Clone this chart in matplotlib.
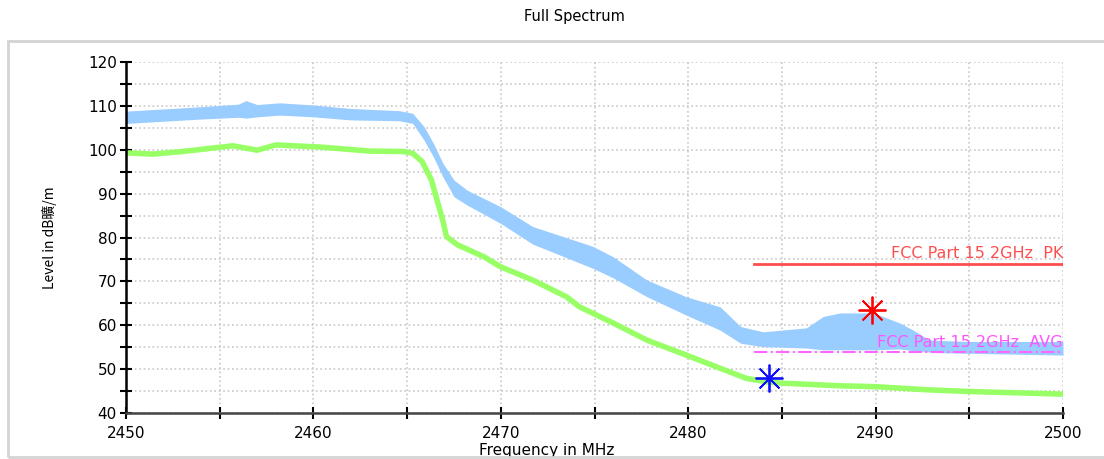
import matplotlib
matplotlib.use("Agg")
import matplotlib.pyplot as plt
from matplotlib.patches import Rectangle
from matplotlib.ticker import MultipleLocator

# peak trace (light blue), read as a band: upper / lower envelope
pk_freq = [2450, 2452, 2454, 2456, 2456.4, 2457, 2458.2, 2460, 2462, 2464.6, 2465.3,
           2465.9, 2466.4, 2466.9, 2467.5, 2468.2, 2470, 2471.7, 2474.9, 2476, 2477.8,
           2479.9, 2481.7, 2482.8, 2484, 2485, 2486.3, 2487.2, 2488.1, 2489.9, 2491.3,
           2492, 2492.7, 2493, 2495, 2500]
pk_hi = [108.8, 109.3, 109.8, 110.4, 111.2, 110.3, 110.7, 110.2, 109.4, 108.9, 108.3,
         105.3, 101.5, 97.0, 93.1, 90.8, 87.0, 82.5, 78.0, 75.6, 70.3,
         66.5, 64.2, 59.7, 58.5, 58.9, 59.4, 62.0, 62.8, 62.8, 60.5,
         58.9, 57.1, 56.6, 56.3, 56.3]
pk_lo = [106.0, 106.5, 107.0, 107.4, 107.2, 107.5, 107.9, 107.5, 106.8, 106.6, 106.0,
         102.2, 98.4, 93.9, 89.3, 87.4, 83.2, 78.5, 73.0, 70.8, 66.5,
         62.3, 58.9, 55.9, 55.1, 55.0, 54.8, 54.4, 54.4, 54.4, 54.6,
         54.2, 54.0, 53.8, 53.6, 53.2]

# average trace (green)
av_freq = [2450, 2451.4, 2453, 2455.7, 2457, 2458, 2460.4, 2463, 2464.8, 2465.3, 2465.8,
           2466.3, 2466.6, 2466.9, 2467.1, 2467.7, 2469.1, 2470, 2471.7, 2473.5, 2474.2,
           2476, 2477.8, 2479.9, 2481.7, 2483.1, 2484.2, 2485, 2488.1, 2490, 2492.7,
           2495, 2500]
av_lvl = [99.3, 99.0, 99.6, 100.9, 99.9, 101.1, 100.6, 99.7, 99.6, 99.2, 97.3,
          93.1, 88.5, 84.0, 80.2, 78.3, 75.6, 73.3, 70.3, 66.5, 64.2,
          60.5, 56.6, 53.2, 50.2, 47.9, 47.1, 46.8, 46.2, 46.0, 45.3,
          44.9, 44.3]

# limit lines
lim_freq = [2483.5, 2500]
lim_pk = [74, 74]
lim_avg = [54, 54]

# markers
mk_pk = (2489.8, 63.5)
mk_av = (2484.3, 47.9)

fig = plt.figure(figsize=(11.04, 4.59), dpi=100)
fig.patches.append(Rectangle((8 / 1104, 1 - 457 / 459), 1.0, (457 - 41) / 459,
                             transform=fig.transFigure, fill=False,
                             edgecolor="#d4d4d4", lw=2))
ax = fig.add_axes([126 / 1104, 1 - 413 / 459, 937 / 1104, 351 / 459])

ax.fill_between(pk_freq, pk_lo, pk_hi, color="#99ccff", lw=0, zorder=2)
ax.plot(av_freq, av_lvl, color="#99ff66", lw=4, zorder=2)

ax.plot(lim_freq, lim_pk, color="#ff4d4d", lw=2, zorder=3)
ax.plot(lim_freq, lim_avg, color="#ff66ff", lw=1.5, ls="-.", zorder=3)
ax.text(2500, 74.6, "FCC Part 15 2GHz  PK", color="#ff4d4d", ha="right",
        va="bottom", fontsize=11.5, zorder=4)
ax.text(2500, 54.4, "FCC Part 15 2GHz  AVG", color="#ff55ff", ha="right",
        va="bottom", fontsize=11.5, zorder=4)

ax.plot(*mk_pk, marker=(8, 2, 0), ms=20, mew=1.3, color="red", zorder=5)
ax.plot(*mk_av, marker=(8, 2, 0), ms=20, mew=1.3, color="#1010ff", zorder=5)

ax.set_xlim(2450, 2500)
ax.set_ylim(40, 120)
ax.xaxis.set_major_locator(MultipleLocator(10))
ax.xaxis.set_minor_locator(MultipleLocator(5))
ax.yaxis.set_major_locator(MultipleLocator(10))
ax.yaxis.set_minor_locator(MultipleLocator(5))
ax.grid(True, which="both", color="#c8c8c8", ls=":", lw=1.2, zorder=0)
ax.set_axisbelow(True)

for s in ["top", "right"]:
    ax.spines[s].set_visible(False)
ax.spines["left"].set_linewidth(1.8)
ax.spines["bottom"].set_linewidth(1.8)
ax.spines["bottom"].set_color("#444444")
ax.tick_params(which="both", direction="inout", length=9, width=1.5, labelsize=11)
ax.tick_params(axis="y", pad=2)
ax.tick_params(axis="x", pad=5)

ax.set_xlabel("Frequency in MHz", fontsize=11)
ax.xaxis.set_label_coords((547 - 126) / 937, -0.085)
ax.set_ylabel("Level in dB曠/m", fontsize=10,
              family=["Liberation Sans Narrow", "Noto Sans CJK SC", "DejaVu Sans"])
ax.yaxis.set_label_coords((57 - 126) / 937, 0.5)

fig.text(574 / 1104, 1 - 16 / 459, "Full Spectrum", ha="center", va="center", fontsize=10.5)

fig.savefig("out.png", dpi=100)
